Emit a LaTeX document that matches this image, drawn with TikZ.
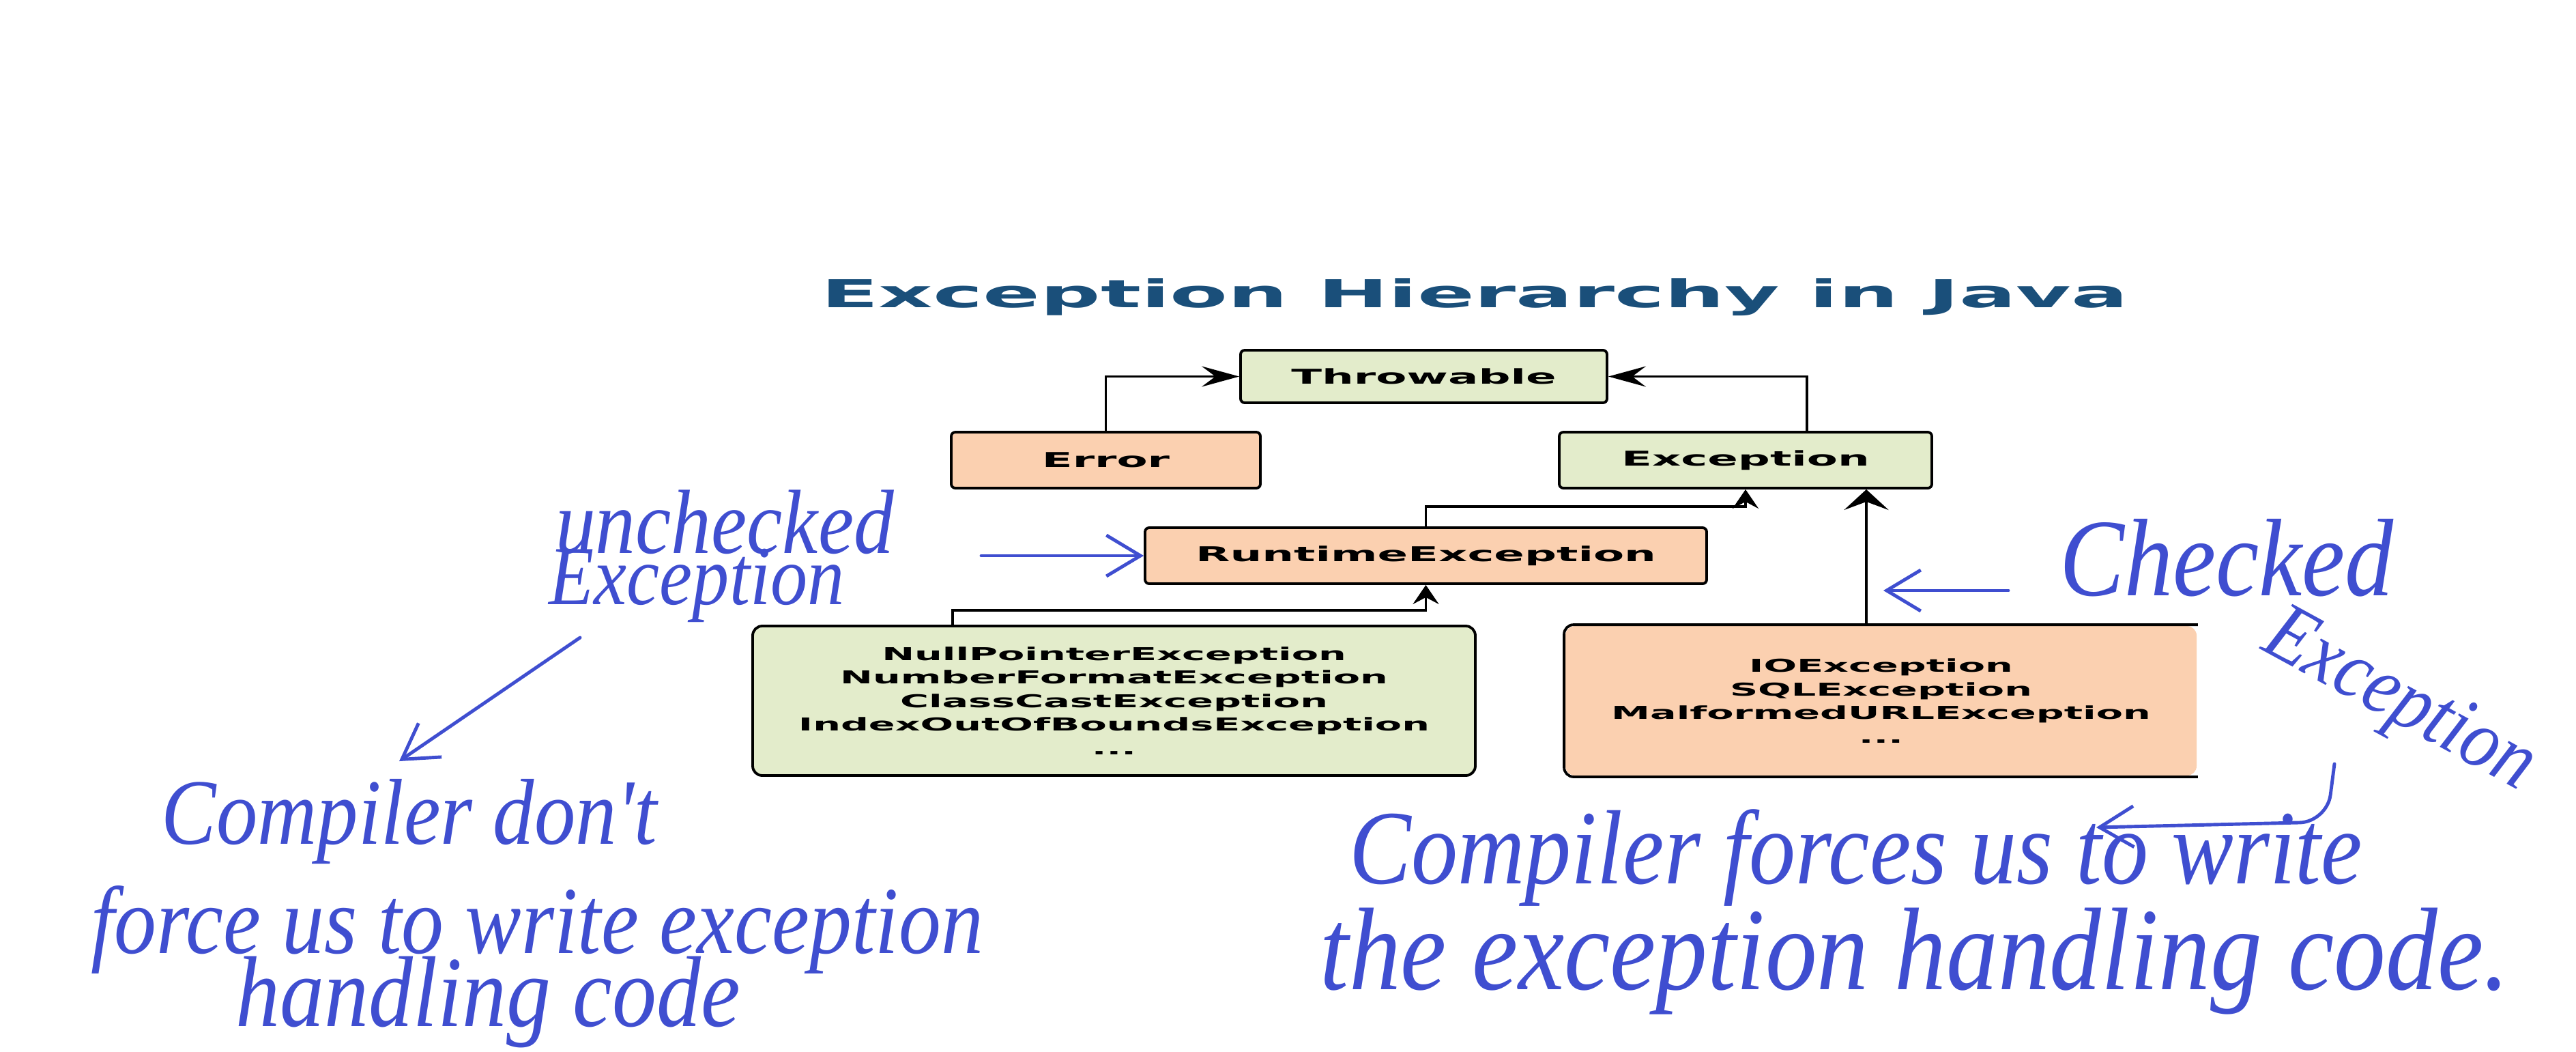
\documentclass[tikz,border=0pt]{standalone}
\usepackage{fontspec}
\usepackage{tikz}
\usetikzlibrary{arrows.meta,positioning,calc}
\newfontfamily\chartfont[FakeStretch=2.2]{DejaVu Sans}
\newfontfamily\handfont[FakeStretch=0.88]{Liberation Serif}
\definecolor{TitleBlue}{HTML}{1A4F7A}
\definecolor{BoxGreen}{HTML}{E3ECCB}
\definecolor{BoxPeach}{HTML}{FBD0B0}
\definecolor{InkBlue}{HTML}{3F4ED0}

\begin{document}
\begin{tikzpicture}[x=1cm,y=1cm,>=Stealth,
  cls/.style={draw=black,line width=1.1pt,rounded corners=0.6mm,inner sep=0pt,align=center,
    font=\chartfont\bfseries\fontsize{8.5}{9.8}\selectfont},
  grp/.style={cls,rounded corners=1.4mm,font=\chartfont\bfseries\fontsize{7.4}{9.8}\selectfont},
  link/.style={line width=1pt},
  ink/.style={InkBlue,line width=1.4pt,line cap=round,line join=round,-{Straight Barb[length=5mm,width=6mm]}},
  hand/.style={InkBlue,anchor=base,inner sep=0pt}]
  \useasboundingbox (0,0) rectangle (37.75,-15.4);

  \node[TitleBlue,anchor=base,font=\chartfont\bfseries\fontsize{16}{18}\selectfont] (ttl) at (21.61,-4.50) {Exception Hierarchy in Java};

  \node[cls,fill=BoxGreen,minimum width=5.37cm,minimum height=0.77cm] (thr) at (20.865,-5.515) {Throwable};
  \node[cls,fill=BoxPeach,minimum width=4.53cm,minimum height=0.82cm] (err) at (16.205,-6.74) {Error};
  \node[cls,fill=BoxGreen,minimum width=5.46cm,minimum height=0.82cm] (exc) at (25.58,-6.74) {Exception};
  \node[cls,fill=BoxPeach,minimum width=8.23cm,minimum height=0.82cm] (rte) at (20.895,-8.14) {RuntimeException};
  \node[grp,fill=BoxGreen,minimum width=10.59cm,minimum height=2.19cm] (unc) at (16.325,-10.265)
    {NullPointerException\\NumberFormatException\\ClassCastException\\IndexOutOfBoundsException\\...};
  \node[grp,draw=none,fill=BoxPeach,minimum width=9.25cm,minimum height=2.19cm] (chk) at (27.565,-10.265)
    {IOException\\SQLException\\MalformedURLException\\...};
  \draw[line width=1.1pt,rounded corners=1.4mm] (chk.north east) -- (chk.north west) -- (chk.south west) -- (chk.south east);

  \draw[link,-{Stealth[length=5.5mm,width=3mm,inset=2mm]}] (err.north) |- (thr.west);
  \draw[link,-{Stealth[length=5.5mm,width=3mm,inset=2mm]}] ([xshift=9mm]exc.north) |- (thr.east);
  \draw[link,-{Stealth[length=2.8mm,width=3.8mm,inset=1mm]}] (rte.north) -- ++(0,0.29) -| (exc.south);
  \draw[link,-{Stealth[length=2.8mm,width=3.8mm,inset=1mm]}] ([xshift=-23.65mm]unc.north) -- ++(0,0.21) -| (rte.south);
  \coordinate (chktop) at ([xshift=-2.15mm]chk.north);
  \draw[line width=1.4pt,-{Stealth[length=3mm,width=6.5mm,inset=1.2mm]}] (chktop) -- (chktop |- exc.south);

  \node[hand,font=\handfont\itshape\fontsize{38}{40}\selectfont] (ulbl1) at (10.62,-8.10) {unchecked};
  \node[hand,font=\handfont\itshape\fontsize{35}{40}\selectfont] (ulbl2) at (10.21,-8.85) {Exception};
  \node[hand,font=\handfont\itshape\fontsize{39}{40}\selectfont] (cmpl1) at (6.00,-12.36) {Compiler don't};
  \node[hand,font=\handfont\itshape\fontsize{40}{40}\selectfont] (cmpl2) at (7.87,-13.96) {force us to write exception};
  \node[hand,font=\handfont\itshape\fontsize{42}{40}\selectfont] (cmpl3) at (7.15,-15.03) {handling code};
  \node[hand,font=\handfont\itshape\fontsize{46}{40}\selectfont] (clbl1) at (32.63,-8.72) {Checked};
  \node[InkBlue,inner sep=0pt,rotate=-28.6,font=\handfont\itshape\fontsize{35}{40}\selectfont] (clbl2) at (35.15,-10.30) {Exception};
  \node[hand,font=\handfont\itshape\fontsize{44}{40}\selectfont] (frc1) at (27.20,-12.94) {Compiler forces us to write};
  \node[hand,font=\handfont\itshape\fontsize{49}{40}\selectfont] (frc2) at (28.06,-14.49) {the exception handling code.};

  \coordinate (uncfrom) at (14.38,-8.14);
  \coordinate (chkfrom) at (29.43,-8.65);
  \coordinate (chkto) at (27.60,-8.65);
  \coordinate (notefrom) at (8.50,-9.34);
  \coordinate (noteto) at (5.85,-11.15);
  \coordinate (forcefrom) at (34.21,-11.19);
  \coordinate (forceto) at (30.72,-12.12);
  \draw[ink] (uncfrom) -- (rte.west);
  \draw[ink] (chkfrom) -- (chkto);
  \draw[ink] (notefrom) -- (noteto);
  \draw[ink,rounded corners=4mm] (forcefrom) -- (34.10,-12.04) -- (forceto);
\end{tikzpicture}
\end{document}
